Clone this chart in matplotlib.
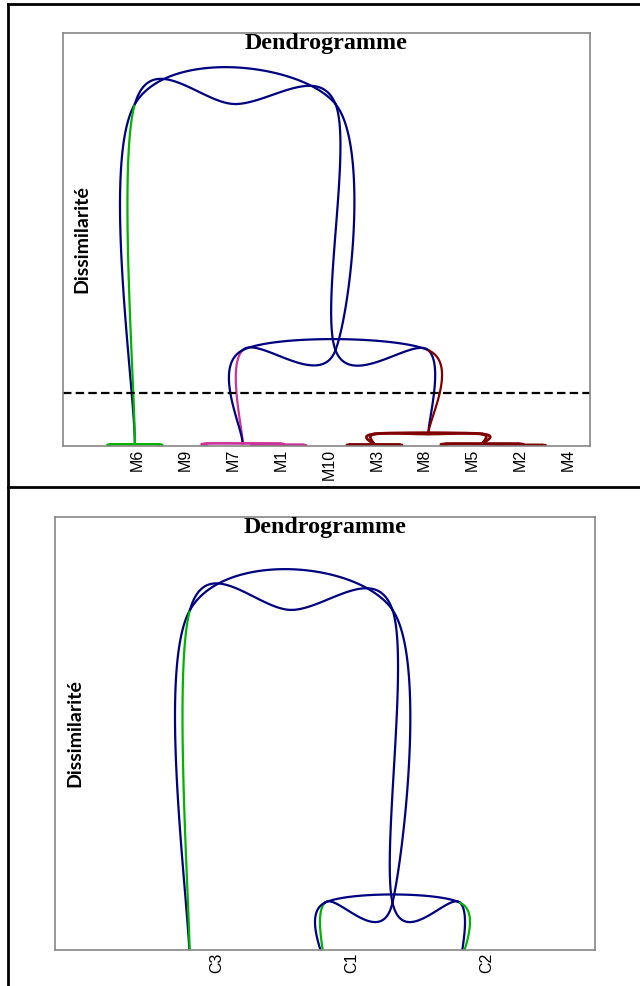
import numpy as np
import matplotlib.pyplot as plt
from matplotlib.lines import Line2D

NAVY = "#000080"
GREEN = "#00B400"
PINK = "#CC3399"
DRED = "#800000"

# ---- top dendrogram (10 objects) ----
labels_top = ["M6", "M9", "M7", "M1", "M10", "M3", "M8", "M5", "M2", "M4"]
ticks_top = [1.55, 2.55, 3.55, 4.55, 5.55, 6.55, 7.55, 8.55, 9.55, 10.55]
h_root = 0.828
h_mid = 0.232
h_green = 0.004
h_pink = 0.006
h_pink2 = 0.003
h_red = 0.029
h_red_a = 0.003
h_red_b = 0.002
h_red_c = 0.005
cut_level = 0.129
x_green = 1.5
x_pink = 3.75
x_red = 7.625

# ---- bottom dendrogram (3 classes) ----
labels_bot = ["C3", "C1", "C2"]
ticks_bot = [1.2, 2.2, 3.2]
x_classes = [1.0, 2.0, 3.0]
h_root2 = 0.794
h_mid2 = 0.145


def smooth(pts, n=60):
    # excel-like smoothed line: bezier through the points, tension 1/6
    p = np.asarray(pts, float)
    m = len(p)
    t = np.linspace(0, 1, n)[:, None]
    segs = []
    for i in range(m - 1):
        p0 = p[i - 1] if i > 0 else p[i]
        p1, p2 = p[i], p[i + 1]
        p3 = p[i + 2] if i + 2 < m else p[i + 1]
        c1 = p1 + (p2 - p0) / 6
        c2 = p2 - (p3 - p1) / 6
        segs.append((1 - t)**3 * p1 + 3 * (1 - t)**2 * t * c1
                    + 3 * (1 - t) * t**2 * c2 + t**3 * p2)
    return segs


def draw(ax, pts, colors, lw=1.6):
    if isinstance(colors, str):
        colors = [colors] * (len(pts) - 1)
    for seg, c in zip(smooth(pts), colors):
        ax.plot(seg[:, 0], seg[:, 1], color=c, lw=lw, solid_capstyle="round")


def link(ax, xl, hl, xr, hr, h, color, lw=1.6):
    xc = (xl + xr) / 2
    draw(ax, [(xl, hl), (xl, h), (xr, h), (xr, hr)], color, lw)
    draw(ax, [(xl, hl), (xl, h), (xc, h), (xr, h), (xr, hr)], color, lw)


def dendro(ax, G, P, R, H, hm, cols):
    xm = (P[0] + R[0]) / 2
    xc = (G[0] + xm) / 2
    Lt, Ct, Rt = (G[0], H), (xc, H), (xm, H)
    M, Lm, Rm = (xm, hm), (P[0], hm), (R[0], hm)
    N = NAVY
    draw(ax, [G, Lt, Rt, M, Lm, P], [N, N, N, N, cols[1]])
    draw(ax, [G, Lt, Ct, Rt, M, Rm, R], [cols[0], N, N, N, N, N])
    draw(ax, [P, Lm, Rm, R], [N, N, cols[2]])


def style(ax, ticks, labels, xlim, ylim):
    ax.set_xlim(*xlim)
    ax.set_ylim(*ylim)
    ax.set_yticks([])
    ax.set_xticks(ticks)
    ax.set_xticklabels(labels, rotation=90, family="Liberation Sans", fontsize=11.5)
    ax.tick_params(axis="x", length=0, pad=2)
    for s in ax.spines.values():
        s.set_color("#868686")
        s.set_linewidth(1.2)
    ax.text(0.5, 1.0, "Dendrogramme", transform=ax.transAxes, ha="center", va="top",
            family="Liberation Serif", fontweight="bold", fontsize=17.3)
    ax.text(0.036, 0.5, "Dissimilarité", transform=ax.transAxes, rotation=90,
            ha="center", va="center", family="Lato", fontweight="bold", fontsize=14)


fig = plt.figure(figsize=(6.4, 9.86), dpi=100)
ax1 = fig.add_axes([63 / 640, 1 - 446 / 986, 527 / 640, 413 / 986])
ax2 = fig.add_axes([55 / 640, 1 - 950 / 986, 540 / 640, 433 / 986])

# top chart
dendro(ax1, (x_green, h_green), (x_pink, h_pink), (x_red, h_red), h_root, h_mid,
       [GREEN, PINK, DRED])
link(ax1, 1, 0, 2, 0, h_green, GREEN)
link(ax1, 4, 0, 5, 0, h_pink2, PINK)
link(ax1, 3, 0, 4.5, h_pink2, h_pink, PINK)
link(ax1, 6, 0, 7, 0, h_red_a, DRED, 2.0)
link(ax1, 9, 0, 10, 0, h_red_b, DRED, 2.0)
link(ax1, 8, 0, 9.5, h_red_b, h_red_c, DRED, 2.0)
link(ax1, 6.5, h_red_a, 8.75, h_red_c, h_red, DRED, 2.0)
ax1.axhline(cut_level, color="black", lw=1.6, dashes=(3.8, 1.9))
style(ax1, ticks_top, labels_top, (0, 11), (0, 1))

# bottom chart
dendro(ax2, (x_classes[0], 0), (x_classes[1], 0), (x_classes[2], 0), h_root2, h_mid2,
       [GREEN, GREEN, GREEN])
style(ax2, ticks_bot, labels_bot, (0, 4), (0.04, 1))

# table borders
fig.add_artist(Line2D([8 / 640, 8 / 640], [0, 1 - 4 / 986], color="black", lw=2))
fig.add_artist(Line2D([8 / 640, 1], [1 - 4 / 986, 1 - 4 / 986], color="black", lw=2))
fig.add_artist(Line2D([8 / 640, 1], [1 - 487 / 986, 1 - 487 / 986], color="black", lw=2))

fig.savefig("out.png", dpi=100)
